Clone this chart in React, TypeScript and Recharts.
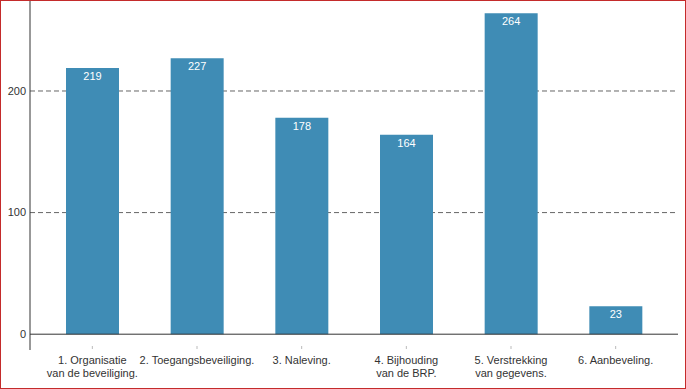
import { Bar, BarChart, CartesianGrid, LabelList, ReferenceLine, XAxis, YAxis } from "recharts";

const categories = [
  "1. Organisatie\nvan de beveiliging.",
  "2. Toegangsbeveiliging.",
  "3. Naleving.",
  "4. Bijhouding\nvan de BRP.",
  "5. Verstrekking\nvan gegevens.",
  "6. Aanbeveling.",
];
const counts = [219, 227, 178, 164, 264, 23];
const yTicks = [0, 100, 200];

const data = categories.map((name, i) => ({ name, value: counts[i] }));

const FONT = "'Liberation Sans', Arial, sans-serif";

function CategoryTick({ x, y, payload }: any) {
  const lines = String(payload.value).split("\n");
  return (
    <g>
      <line x1={x} x2={x} y1={y - 6} y2={y - 3} stroke="#bbb" />
      {lines.map((line, i) => (
        <text
          key={i}
          x={x}
          y={y + 12 + i * 13}
          textAnchor="middle"
          fill="#333"
          fontSize={11}
          fontFamily={FONT}
        >
          {line}
        </text>
      ))}
    </g>
  );
}

export default function App() {
  return (
    <div
      style={{
        position: "absolute",
        left: 0,
        top: 0,
        width: 686,
        height: 389,
        border: "1px solid #c42b2b",
        boxSizing: "border-box",
        background: "#fff",
      }}
    >
      <BarChart
        width={684}
        height={387}
        data={data}
        margin={{ top: 0, right: 7, left: 0, bottom: 0 }}
      >
        <CartesianGrid
          vertical={false}
          horizontalValues={[100, 200]}
          stroke="#666"
          strokeDasharray="5 3"
        />
        <XAxis
          dataKey="name"
          interval={0}
          height={38}
          axisLine={false}
          tickLine={false}
          tickSize={0}
          padding={{ left: 10, right: 10 }}
          tick={<CategoryTick />}
        />
        <YAxis
          width={29}
          domain={[-13, 274]}
          ticks={yTicks}
          allowDataOverflow
          axisLine={{ stroke: "#333" }}
          tickLine={false}
          tickSize={0}
          tickMargin={4}
          tick={{ fill: "#333", fontSize: 11, fontFamily: FONT }}
        />
        <Bar dataKey="value" fill="#3f8cb5" barSize={53} isAnimationActive={false}>
          <LabelList
            dataKey="value"
            position="insideTop"
            offset={4}
            fill="#fff"
            fontSize={11}
            fontFamily={FONT}
          />
        </Bar>
        <ReferenceLine y={0} stroke="#333" />
      </BarChart>
    </div>
  );
}
